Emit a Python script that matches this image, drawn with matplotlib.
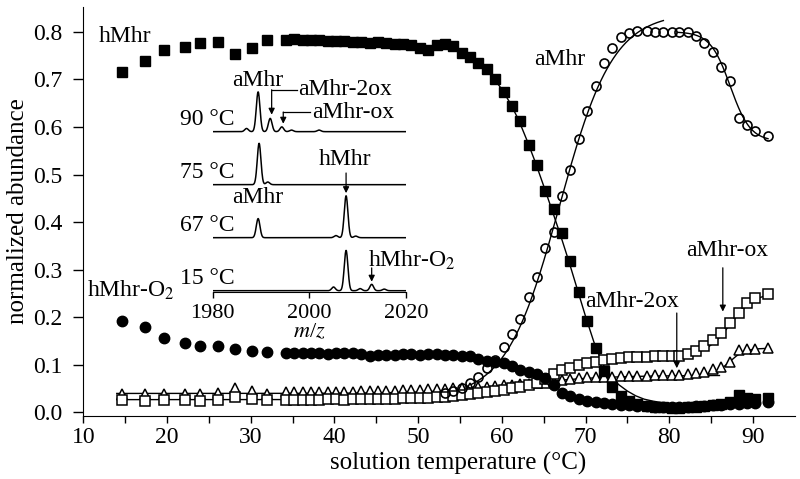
import numpy as np
import matplotlib
matplotlib.use('Agg')
import matplotlib.pyplot as plt

plt.rcParams['font.family'] = ['Liberation Serif', 'Nimbus Roman', 'STIXGeneral', 'DejaVu Serif']
plt.rcParams['mathtext.fontset'] = 'stix'

# solution temperatures (C)
temps = [14.6, 17.4, 19.7, 22.1, 24.0, 26.1, 28.1, 30.1, 32.0,
         34.2, 35.2, 36.2, 37.2, 38.2, 39.2, 40.2, 41.2, 42.2, 43.2,
         44.2, 45.2, 46.2, 47.2, 48.2, 49.2, 50.2, 51.2, 52.2, 53.2,
         54.2, 55.2, 56.2, 57.2, 58.2, 59.2, 60.2, 61.2, 62.2, 63.2,
         64.2, 65.2, 66.2, 67.2, 68.2, 69.2, 70.2, 71.2, 72.2, 73.2,
         74.2, 75.2, 76.2, 77.3, 78.3, 79.3, 80.3, 81.2, 82.2, 83.2,
         84.2, 85.2, 86.2, 87.3, 88.3, 89.3, 90.3, 91.8]

hmhr = [0.715, 0.739, 0.762, 0.768, 0.776, 0.779, 0.754, 0.765, 0.782,
        0.783, 0.784, 0.783, 0.782, 0.782, 0.781, 0.780, 0.780, 0.778, 0.778,
        0.777, 0.778, 0.776, 0.774, 0.774, 0.772, 0.766, 0.761, 0.772, 0.774,
        0.770, 0.756, 0.746, 0.735, 0.721, 0.700, 0.674, 0.644, 0.612, 0.563,
        0.521, 0.466, 0.428, 0.377, 0.318, 0.253, 0.192, 0.135, 0.088, 0.054,
        0.034, 0.024, 0.018, 0.014, 0.012, 0.011, 0.010, 0.010, 0.011, 0.012,
        0.013, 0.015, 0.018, 0.022, 0.037, 0.030, 0.028, 0.031]

hmhr_o2 = [0.193, 0.179, 0.156, 0.147, 0.140, 0.139, 0.134, 0.130, 0.127,
           0.126, 0.125, 0.124, 0.124, 0.124, 0.123, 0.124, 0.125, 0.124, 0.122,
           0.118, 0.120, 0.121, 0.121, 0.123, 0.122, 0.121, 0.122, 0.123, 0.121,
           0.120, 0.119, 0.118, 0.113, 0.108, 0.106, 0.104, 0.097, 0.090, 0.085,
           0.080, 0.072, 0.058, 0.041, 0.034, 0.029, 0.025, 0.022, 0.019, 0.017,
           0.016, 0.015, 0.014, 0.013, 0.012, 0.012, 0.012, 0.012, 0.012, 0.013,
           0.014, 0.015, 0.016, 0.017, 0.018, 0.019, 0.020, 0.022]

# aMhr only measured from 53.2 C on
amhr_start = 28
amhr = [0.040, 0.045, 0.052, 0.061, 0.075, 0.093, 0.110, 0.137, 0.164, 0.197,
        0.242, 0.284, 0.345, 0.380, 0.455, 0.509, 0.575, 0.633, 0.687, 0.734,
        0.765, 0.790, 0.798, 0.802, 0.802, 0.800, 0.800, 0.800, 0.800, 0.799,
        0.791, 0.777, 0.757, 0.725, 0.696, 0.619, 0.605, 0.591, 0.581]

amhr_ox = [0.026, 0.025, 0.026, 0.026, 0.025, 0.027, 0.032, 0.029, 0.026,
           0.027, 0.027, 0.027, 0.027, 0.027, 0.028, 0.028, 0.027, 0.028, 0.028,
           0.028, 0.029, 0.029, 0.029, 0.030, 0.030, 0.031, 0.031, 0.032, 0.033,
           0.034, 0.036, 0.038, 0.040, 0.042, 0.045, 0.048, 0.051, 0.054, 0.058,
           0.062, 0.070, 0.080, 0.089, 0.094, 0.099, 0.104, 0.107, 0.110, 0.112,
           0.114, 0.116, 0.116, 0.117, 0.118, 0.118, 0.119, 0.119, 0.123, 0.130,
           0.139, 0.153, 0.168, 0.188, 0.209, 0.229, 0.240, 0.249]

amhr_2ox = [0.039, 0.038, 0.038, 0.039, 0.039, 0.040, 0.051, 0.046, 0.039,
            0.043, 0.043, 0.044, 0.044, 0.044, 0.044, 0.044, 0.044, 0.044, 0.045,
            0.045, 0.045, 0.046, 0.046, 0.047, 0.047, 0.048, 0.049, 0.049, 0.050,
            0.051, 0.052, 0.052, 0.053, 0.054, 0.056, 0.057, 0.058, 0.059, 0.060,
            0.061, 0.062, 0.065, 0.068, 0.070, 0.072, 0.074, 0.074, 0.075, 0.075,
            0.076, 0.076, 0.077, 0.077, 0.078, 0.078, 0.079, 0.079, 0.080, 0.082,
            0.086, 0.091, 0.096, 0.107, 0.132, 0.133, 0.133, 0.135]

# hMhr guide line
hmhr_fit_t = [54, 55, 56, 57, 58, 59, 60, 61, 62, 63, 64, 65, 66, 67,
              68, 69, 70, 71, 72, 73, 74, 75, 76, 77, 78, 79, 80]
hmhr_fit = [0.765, 0.757, 0.748, 0.737, 0.722, 0.703, 0.679, 0.650, 0.615,
            0.572, 0.526, 0.476, 0.425, 0.373, 0.318, 0.260, 0.202, 0.148,
            0.104, 0.074, 0.058, 0.045, 0.035, 0.028, 0.024, 0.021, 0.019]

# sigmoid fits: (t_from, t_to, base, amplitude, midpoint, width)
fits = [
    (55.0, 79.3, 0.03, 0.81, 66.9, 3.2),      # aMhr rise
    (81.0, 91.8, 0.57, 0.23, 87.3, -1.2),     # aMhr drop
    (14.0, 82.5, 0.027, 0.092, 65.5, 3.5),    # aMhr-ox
    (80.0, 91.8, 0.118, 0.135, 87.3, 1.5),
    (14.0, 86.0, 0.040, 0.038, 62.0, 5.0),    # aMhr-2ox
    (83.0, 91.8, 0.078, 0.057, 87.2, 0.9),
]

# inset mass spectra: peaks (m/z, height) per temperature, stacked
spec_labels = ['15 °C', '67 °C', '75 °C', '90 °C']
spec_peaks = [
    [(2005.0, 0.07), (2007.6, 0.76), (2010.5, 0.04), (2012.9, 0.12), (2015.5, 0.03)],
    [(1989.4, 0.36), (2005.5, 0.04), (2007.6, 0.79), (2009.6, 0.03)],
    [(1989.6, 0.78), (1991.4, 0.05)],
    [(1987.0, 0.06), (1989.4, 0.75), (1991.9, 0.25), (1994.3, 0.09), (1996.3, 0.03), (2002.0, 0.03)],
]
peak_sigma = 0.38

fig = plt.figure(figsize=(8, 4.79), dpi=100)
ax = fig.add_axes([83.3/800, 63/479, 711.5/800, 409/479])

t = np.array(temps)
ax.plot(hmhr_fit_t, hmhr_fit, color='black', lw=1.0, zorder=2)
for f0, f1, b, a, m, w in fits:
    tt = np.linspace(f0, f1, 200)
    ax.plot(tt, b + a/(1 + np.exp(-(tt - m)/w)), color='black', lw=1.0, zorder=2)

ax.plot(t, amhr_2ox, ls='none', marker='^', ms=7.5, mfc='white', mec='black', mew=1.1, zorder=3)
ax.plot(t, amhr_ox, ls='none', marker='s', ms=6.5, mfc='white', mec='black', mew=1.1, zorder=3)
ax.plot(t, hmhr_o2, ls='none', marker='o', ms=7.5, mfc='black', mec='black', zorder=4)
ax.plot(t[amhr_start:], amhr, ls='none', marker='o', ms=6.5, mfc='none', mec='black', mew=1.2, zorder=5)
ax.plot(t, hmhr, ls='none', marker='s', ms=7, mfc='black', mec='black', zorder=5)

ax.set_xlim(10, 95)
ax.set_ylim(-0.0074, 0.852)
ax.set_xticks(range(10, 95, 10))
ax.set_xticks(range(15, 95, 10), minor=True)
ax.set_yticks(np.arange(0, 0.81, 0.1))
ax.set_yticklabels(['%.1f' % v for v in np.arange(0, 0.81, 0.1)])
ax.spines['top'].set_visible(False)
ax.spines['right'].set_visible(False)
ax.tick_params(axis='x', which='both', direction='out', length=5, width=1, labelsize=17, pad=3)
ax.tick_params(axis='y', direction='out', length=7, width=1, labelsize=17, pad=8)
ax.set_xlabel('solution temperature (°C)', fontsize=18)
ax.set_ylabel('normalized abundance', fontsize=18)
ax.xaxis.set_label_coords(0.527, -0.088)
ax.yaxis.set_label_coords(-0.077, 0.5)

ax.text(11.8, 0.791, 'hMhr', fontsize=17, ha='left', va='center')
ax.text(66.95, 0.741, 'aMhr', fontsize=17, ha='center', va='center')
ax.text(10.45, 0.243, 'hMhr-O$_2$', fontsize=17, ha='left', va='baseline')
ax.text(69.95, 0.233, 'aMhr-2ox', fontsize=17, ha='left', va='center')
ax.text(86.9, 0.341, 'aMhr-ox', fontsize=17, ha='center', va='center')
arr = dict(arrowstyle='-|>', color='black', lw=0.9, mutation_scale=9, shrinkA=0, shrinkB=0)
ax.annotate('', xy=(80.9, 0.093), xytext=(80.9, 0.209), arrowprops=arr)
ax.annotate('', xy=(86.4, 0.212), xytext=(86.4, 0.304), arrowprops=arr)

# inset
ins = fig.add_axes([212.7/800, 1 - 291.5/479, 193.3/800, (291.5 - 85)/479])
mz = np.linspace(1980, 2020, 801)
for i, peaks in enumerate(spec_peaks):
    y = np.zeros_like(mz)
    for c, h in peaks:
        y += h*np.exp(-0.5*((mz - c)/peak_sigma)**2)
    ins.plot(mz, y + i, color='black', lw=1.1)
    ins.text(1984.6, i + 0.12, spec_labels[i], fontsize=17, ha='right', va='baseline')
ins.set_xlim(1980, 2020)
ins.set_ylim(-0.015, 3.88)
ins.patch.set_alpha(0)
for s in ['top', 'right', 'left']:
    ins.spines[s].set_visible(False)
ins.set_yticks([])
ins.set_xticks([1980, 2000, 2020])
ins.tick_params(axis='x', direction='out', length=4, width=1, labelsize=16, pad=5)
ins.set_xlabel('$m$/$z$', fontsize=16, labelpad=0)

ins.text(1989.4, 3.96, 'aMhr', fontsize=17, ha='center', va='center', clip_on=False)
ins.plot([1992.2, 1997.4], [3.79, 3.79], color='black', lw=0.9, clip_on=False)
ins.annotate('', xy=(1992.2, 3.32), xytext=(1992.2, 3.79), arrowprops=arr, annotation_clip=False)
ins.text(1997.7, 3.79, 'aMhr-2ox', fontsize=17, ha='left', va='center', clip_on=False)
ins.plot([1994.6, 2000.2], [3.37, 3.37], color='black', lw=0.9, clip_on=False)
ins.annotate('', xy=(1994.6, 3.15), xytext=(1994.6, 3.37), arrowprops=arr, annotation_clip=False)
ins.text(2000.5, 3.37, 'aMhr-ox', fontsize=17, ha='left', va='center', clip_on=False)
ins.text(2007.4, 2.47, 'hMhr', fontsize=17, ha='center', va='center')
ins.annotate('', xy=(2007.6, 1.84), xytext=(2007.6, 2.22), arrowprops=arr)
ins.text(1989.4, 1.75, 'aMhr', fontsize=17, ha='center', va='center')
ins.text(2012.1, 0.58, 'hMhr-O$_2$', fontsize=17, ha='left', va='center', clip_on=False)
ins.annotate('', xy=(2012.9, 0.17), xytext=(2012.9, 0.43), arrowprops=arr)

fig.savefig('out.png', dpi=100)
